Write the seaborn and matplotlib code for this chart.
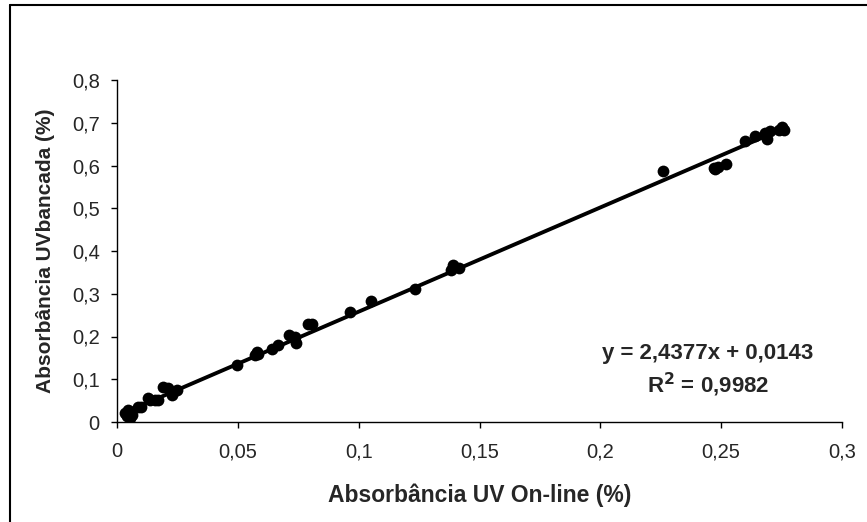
import matplotlib
matplotlib.use("Agg")
import matplotlib.pyplot as plt
from matplotlib.lines import Line2D
import seaborn as sns
import pandas as pd
import numpy as np

# Data
x_online = [0.0033, 0.004, 0.005, 0.006, 0.0045, 0.0055, 0.0087, 0.010, 0.013, 0.0137,
            0.0157, 0.017, 0.019, 0.021, 0.023, 0.0227, 0.0248, 0.0497, 0.057, 0.058,
            0.0585, 0.064, 0.0667, 0.071, 0.0737, 0.074, 0.079, 0.0805, 0.0964, 0.105,
            0.1233, 0.138, 0.139, 0.1417, 0.226, 0.2475, 0.247, 0.2487, 0.252, 0.26,
            0.264, 0.268, 0.269, 0.270, 0.274, 0.275, 0.276]
y_bancada = [0.021, 0.013, 0.025, 0.016, 0.028, 0.010, 0.035, 0.036, 0.056, 0.051,
             0.051, 0.052, 0.082, 0.079, 0.070, 0.063, 0.075, 0.133, 0.157, 0.164,
             0.160, 0.171, 0.180, 0.203, 0.200, 0.184, 0.229, 0.229, 0.258, 0.284,
             0.310, 0.356, 0.367, 0.360, 0.586, 0.591, 0.595, 0.597, 0.603, 0.657,
             0.670, 0.676, 0.662, 0.680, 0.683, 0.690, 0.683]

slope = 2.4377
intercept = 0.0143
r2 = 0.9982

x_ticks = [0, 0.05, 0.1, 0.15, 0.2, 0.25, 0.3]
x_tick_labels = ["0", "0,05", "0,1", "0,15", "0,2", "0,25", "0,3"]
y_ticks = [0, 0.1, 0.2, 0.3, 0.4, 0.5, 0.6, 0.7, 0.8]
y_tick_labels = ["0", "0,1", "0,2", "0,3", "0,4", "0,5", "0,6", "0,7", "0,8"]

x_label = "Absorbância UV On-line (%)"
y_label = "Absorbância UVbancada (%)"

sns.set_style("white")
plt.rcParams["font.family"] = ["Liberation Sans", "DejaVu Sans"]

df = pd.DataFrame({"x": x_online, "y": y_bancada})
xfit = np.array([min(x_online), max(x_online)])
fit_df = pd.DataFrame({"x": xfit, "y": slope * xfit + intercept})

fig = plt.figure(figsize=(8.67, 5.22), dpi=100)
ax = fig.add_axes([117 / 867, 1 - 422 / 522, (842 - 117) / 867, (422 - 80) / 522])

sns.lineplot(data=fit_df, x="x", y="y", ax=ax, color="black", linewidth=2.8, zorder=2)
sns.scatterplot(data=df, x="x", y="y", ax=ax, color="black", s=72,
                edgecolor="black", linewidth=0, zorder=3)

ax.set_xlim(0, 0.3)
ax.set_ylim(0, 0.8)
ax.set_xticks(x_ticks)
ax.set_xticklabels(x_tick_labels)
ax.set_yticks(y_ticks)
ax.set_yticklabels(y_tick_labels)
ax.tick_params(axis="both", which="major", direction="out", length=4.5, width=1,
               color="black", labelsize=14.5, bottom=True, left=True)
ax.tick_params(axis="x", pad=10)
ax.tick_params(axis="y", pad=8)

for side in ["top", "right"]:
    ax.spines[side].set_visible(False)
for side in ["left", "bottom"]:
    ax.spines[side].set_color("black")
    ax.spines[side].set_linewidth(1)

ax.set_xlabel(x_label, fontsize=16.5, fontweight="bold", labelpad=16)
ax.set_ylabel(y_label, fontsize=15, fontweight="bold", labelpad=12)

ax.text(0.2446, 0.161, "y = 2,4377x + 0,0143", fontsize=16, fontweight="bold",
        ha="center", va="center")
ax.text(0.2444, 0.0865, "R$^{\\mathbf{2}}$ = 0,9982", fontsize=16, fontweight="bold",
        ha="center", va="center")

# outer chart border (top and left visible)
fig.add_artist(Line2D([10 / 867, 10 / 867], [0, 1 - 5 / 522], color="black",
                      linewidth=1.5, transform=fig.transFigure))
fig.add_artist(Line2D([10 / 867, 1], [1 - 5 / 522, 1 - 5 / 522], color="black",
                      linewidth=1.5, transform=fig.transFigure))

fig.savefig("out.png", dpi=100)
